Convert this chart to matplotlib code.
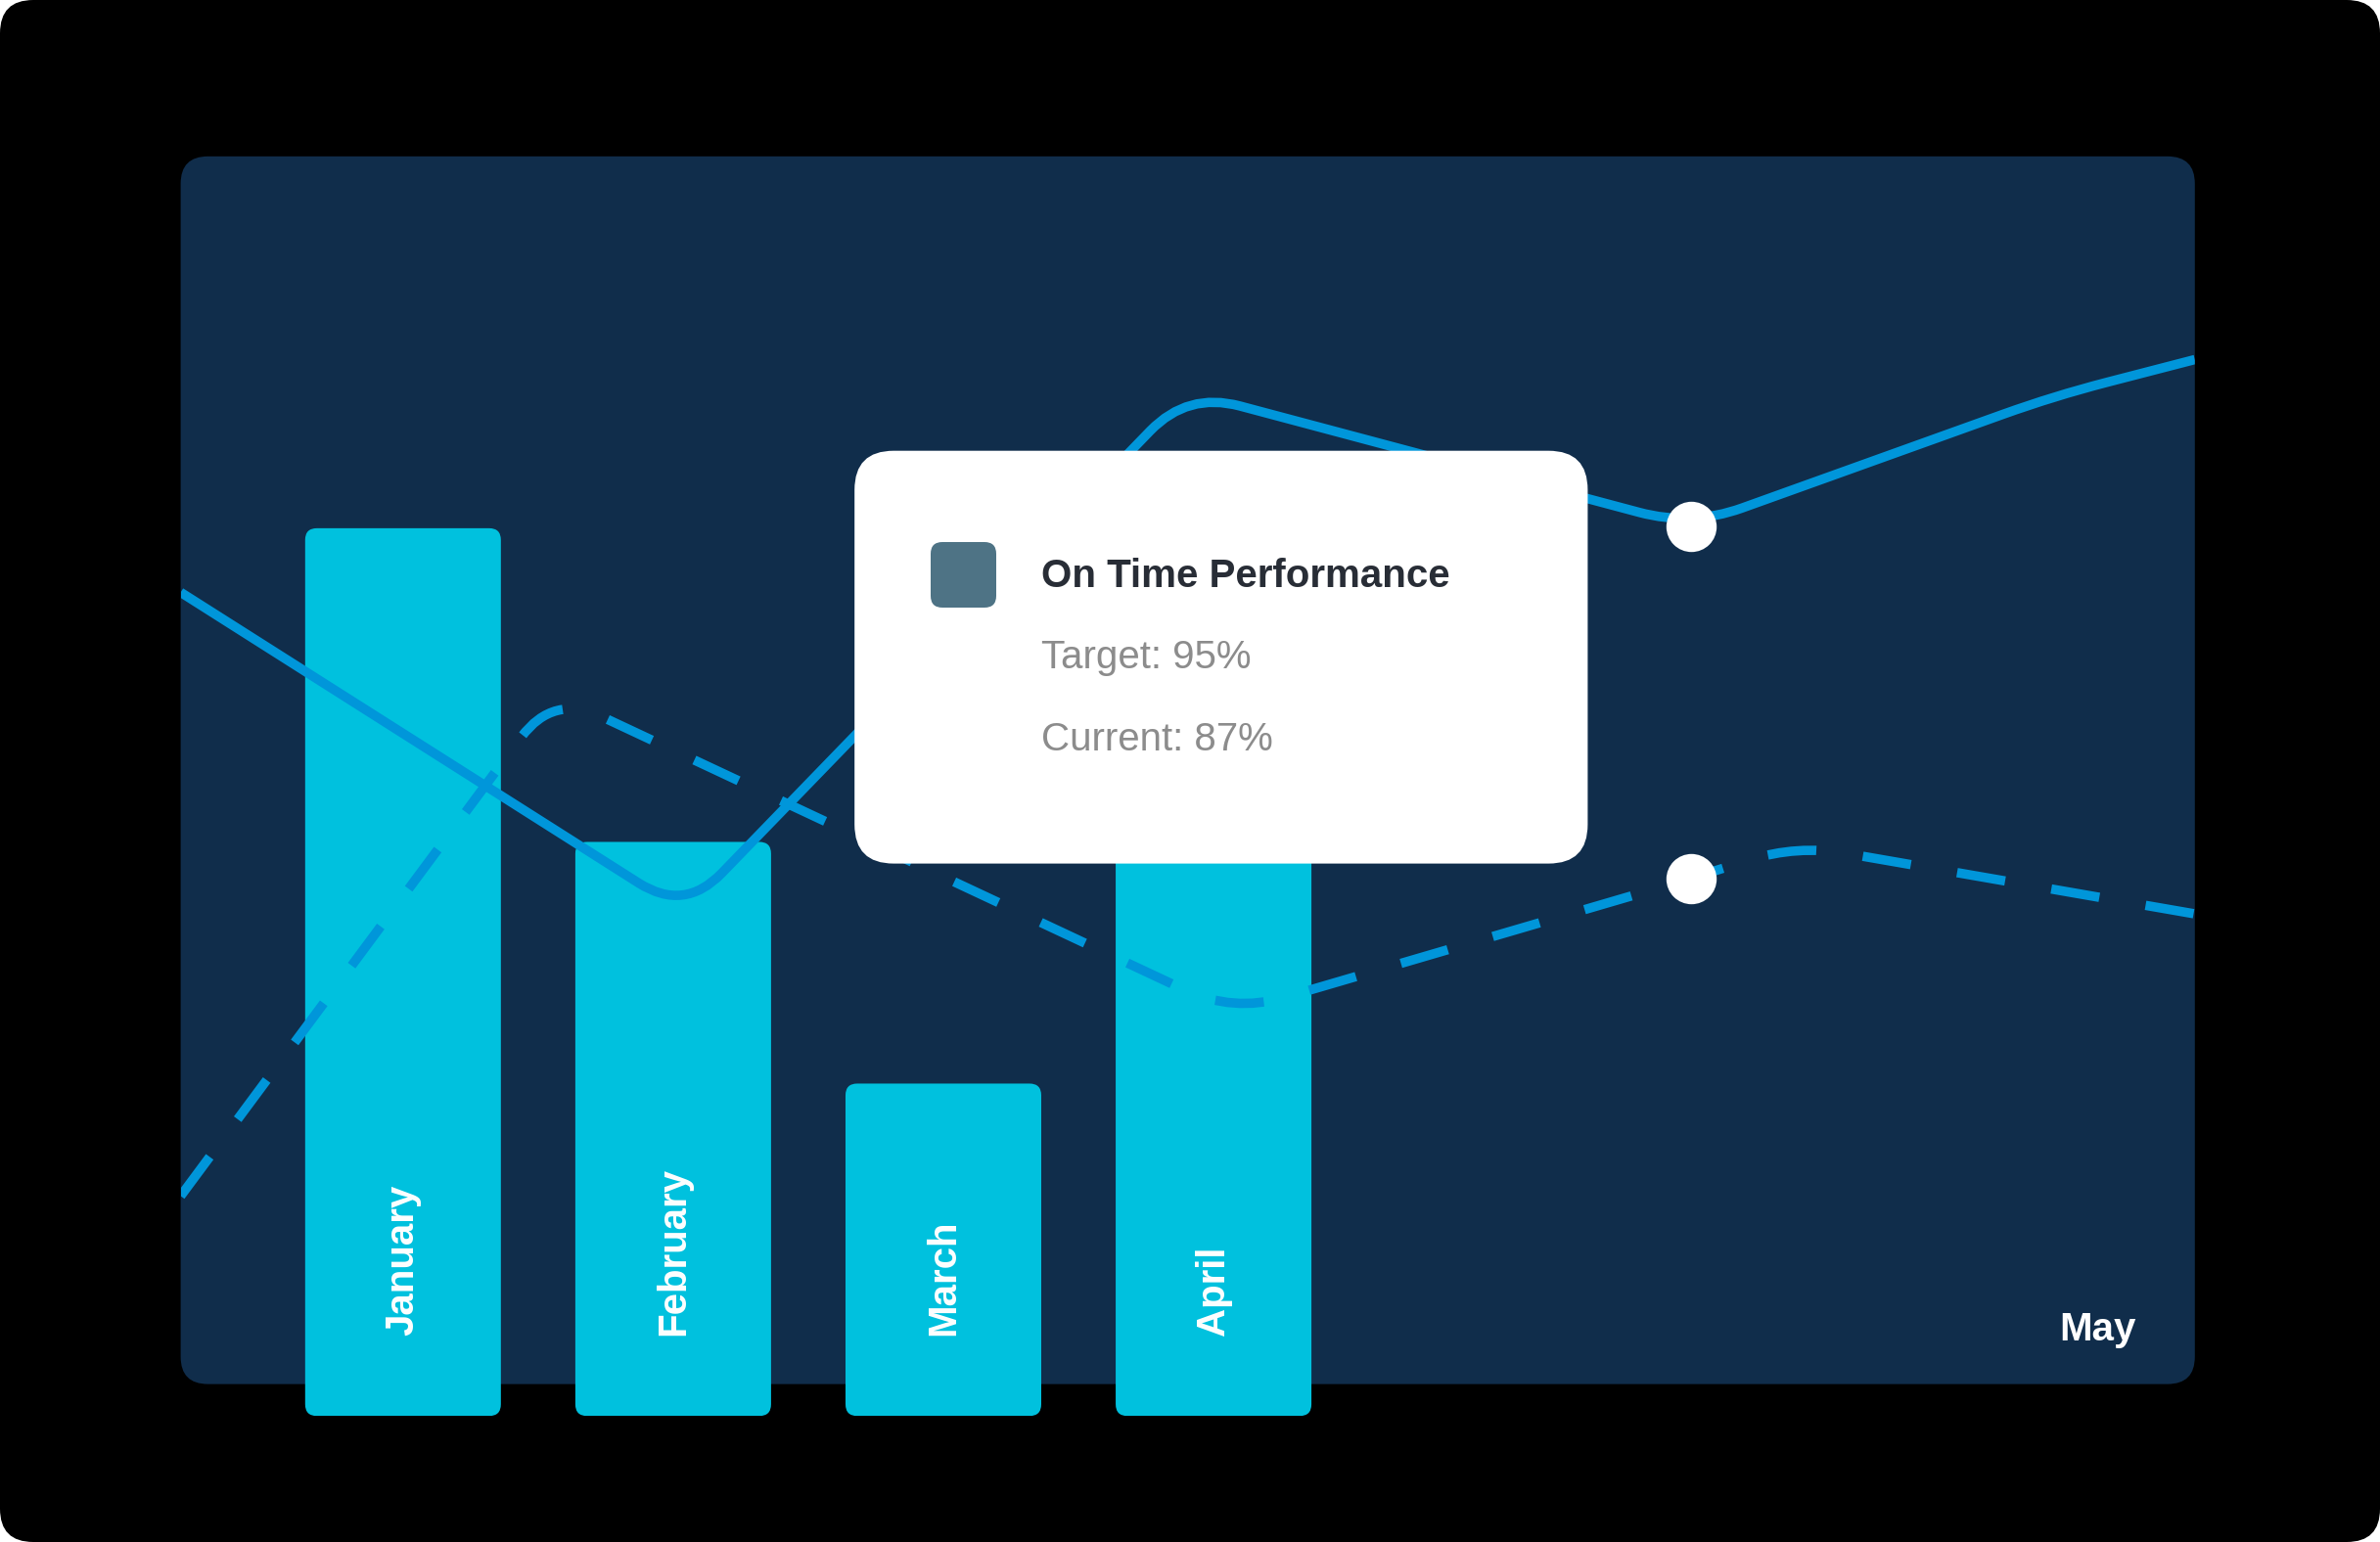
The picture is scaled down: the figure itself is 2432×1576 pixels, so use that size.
import matplotlib
matplotlib.use("Agg")
import matplotlib.pyplot as plt
import numpy as np
from matplotlib.patches import FancyBboxPatch, PathPatch
from matplotlib.path import Path
from matplotlib.transforms import IdentityTransform

plt.rcParams['font.family'] = ['Liberation Sans', 'DejaVu Sans']

# ---------------- data ----------------
months = ['January', 'February', 'March', 'April', 'May']
bar_values = [90.0, 58.2, 33.7, 64.0]

solid_x = [0, 1, 2, 3, 3.72, 4]
solid_y = [83.5, 51.1, 103.8, 90.2, 103.4, 107.1]

dashed_x = [0, 0.74, 2.09, 3.0, 3.21, 4]
dashed_y = [22.3, 73.2, 40.9, 54.5, 57.9, 50.9]

highlight_x = 3
tooltip_title = 'On Time Performance'
target_pct = 95
current_pct = 87

# ---------------- style ----------------
W, H = 2432, 1576
PANEL_COLOR = '#102d4b'
BAR_COLOR = '#00c1de'
LINE_COLOR = '#0096da'
SWATCH_COLOR = '#4e7385'

fig = plt.figure(figsize=(W / 100, H / 100), dpi=100, facecolor='white')

def fig_rect(x0, ytop, x1, ybot):
    return [x0 / W, 1 - ybot / H, (x1 - x0) / W, (ybot - ytop) / H]

# background axes in pixel units
ax_bg = fig.add_axes([0, 0, 1, 1], zorder=0)
ax_bg.set_xlim(0, W)
ax_bg.set_ylim(H, 0)
ax_bg.axis('off')
ax_bg.add_patch(FancyBboxPatch((0, 0), W, H, boxstyle='round,pad=0,rounding_size=34',
                               fc='black', ec='none'))
PX0, PY0, PX1, PY1 = 184.6, 159.8, 2242.8, 1414.6
panel = FancyBboxPatch((PX0, PY0), PX1 - PX0, PY1 - PY0,
                       boxstyle='round,pad=0,rounding_size=28', fc=PANEL_COLOR, ec='none')
ax_bg.add_patch(panel)

BASE = 1447.2
chart_rect = fig_rect(PX0, PY0, PX1, BASE)

# bars axes
XL0, XL1 = -0.823, 6.632
YMAX = 127.7
ax_bar = fig.add_axes(chart_rect, zorder=1)
ax_bar.set_xlim(XL0, XL1)
ax_bar.set_ylim(0, YMAX)
ax_bar.axis('off')
ax_bar.patch.set_visible(False)

bar_w = 0.7245
bars = ax_bar.bar(range(len(bar_values)), bar_values, width=bar_w, color=BAR_COLOR)
x_ppu = (PX1 - PX0) / (XL1 - XL0)
y_ppu = (BASE - PY0) / YMAX
r_x = 12 / x_ppu
for rect in bars:
    x, y, w, h = rect.get_x(), rect.get_y(), rect.get_width(), rect.get_height()
    rect.set_visible(False)
    ax_bar.add_patch(FancyBboxPatch((x, y), w, h,
                                    boxstyle=f'round,pad=0,rounding_size={r_x}',
                                    mutation_aspect=x_ppu / y_ppu,
                                    fc=BAR_COLOR, ec='none', zorder=2))

for i, m in enumerate(months[:len(bar_values)]):
    ax_bar.annotate(m, xy=(i, 0), xytext=(0, 59), textcoords='offset points',
                    rotation=90, ha='center', va='bottom', color='white',
                    fontsize=29, fontweight='bold', zorder=3, annotation_clip=False)

# lines axes
ax_line = fig.add_axes(chart_rect, zorder=2)
ax_line.set_xlim(0, 4)
ax_line.set_ylim(0, YMAX)
ax_line.axis('off')
ax_line.patch.set_visible(False)
ax_line.set_autoscale_on(False)


def rounded_line(ax, xs, ys, r_px, **kw):
    pts = ax.transData.transform(np.column_stack([xs, ys]))
    verts = [pts[0]]
    codes = [Path.MOVETO]
    for i in range(1, len(pts) - 1):
        P, V, N = pts[i - 1], pts[i], pts[i + 1]
        a, b = P - V, N - V
        la, lb = np.hypot(*a), np.hypot(*b)
        d = min(r_px, 0.45 * la, 0.45 * lb)
        verts += [V + a / la * d, V, V + b / lb * d]
        codes += [Path.LINETO, Path.CURVE3, Path.CURVE3]
    verts.append(pts[-1])
    codes.append(Path.LINETO)
    patch = PathPatch(Path(np.array(verts), codes), fill=False,
                      transform=IdentityTransform(), **kw)
    ax.add_patch(patch)
    patch.set_clip_path(panel)
    return patch

rounded_line(ax_line, dashed_x, dashed_y, 55, ec=LINE_COLOR, lw=6.9,
             linestyle=(0, (5.2, 5.0)), capstyle='butt', zorder=3)
rounded_line(ax_line, solid_x, solid_y, 55, ec=LINE_COLOR, lw=6.9,
             joinstyle='round', capstyle='butt', zorder=4)

hx = [highlight_x, highlight_x]
hy = [solid_y[solid_x.index(highlight_x)], dashed_y[dashed_x.index(highlight_x)]]
ax_line.plot(hx, hy, linestyle='none', marker='o', ms=37, mfc='white', mec='none',
             zorder=6, clip_on=False)

# "May" label
ax_bg.text(2143.5, 1369.5, months[4], ha='center', va='baseline', color='white',
           fontsize=29, fontweight='bold', zorder=5)

# tooltip overlay
ax_tip = fig.add_axes([0, 0, 1, 1], zorder=3)
ax_tip.set_xlim(0, W)
ax_tip.set_ylim(H, 0)
ax_tip.axis('off')
ax_tip.patch.set_visible(False)
ax_tip.add_patch(FancyBboxPatch((873.2, 460.7), 749.2, 421.9,
                                boxstyle='round,pad=0,rounding_size=40',
                                fc='white', ec='none'))
ax_tip.add_patch(FancyBboxPatch((951, 554), 67, 67,
                                boxstyle='round,pad=0,rounding_size=12',
                                fc=SWATCH_COLOR, ec='none'))
ax_tip.text(1064, 600, tooltip_title, ha='left', va='baseline', color='#282d36',
            fontsize=29, fontweight='bold')
ax_tip.text(1064, 683, f'Target: {target_pct}%', ha='left', va='baseline',
            color='#8c8c8c', fontsize=29)
ax_tip.text(1064, 767, f'Current: {current_pct}%', ha='left', va='baseline',
            color='#8c8c8c', fontsize=29)

fig.savefig('out.png', dpi=100, facecolor='white')
